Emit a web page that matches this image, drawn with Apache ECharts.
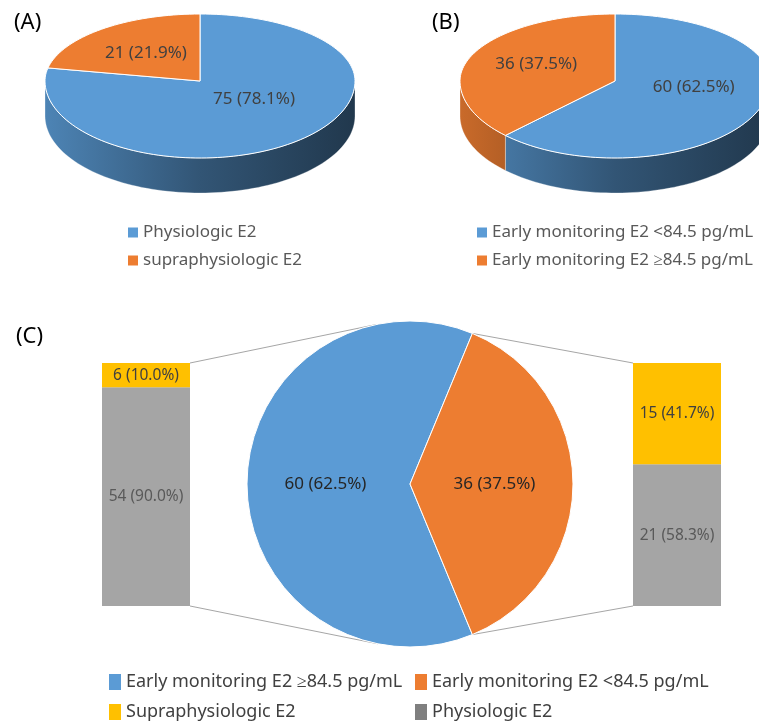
<!DOCTYPE html>
<html>
<head>
<meta charset="utf-8">
<script src="https://cdn.jsdelivr.net/npm/echarts/dist/echarts.min.js"></script>
<style>
  html, body { margin: 0; background: #fff; }
  #chart { width: 759px; height: 723px; }
</style>
</head>
<body>
<div id="chart"></div>
<script>
// (A) 3D pie
const namesA = ['Physiologic E2', 'supraphysiologic E2'];
const valuesA = [75, 21];
// (B) 3D pie
const namesB = ['Early monitoring E2 <84.5 pg/mL', 'Early monitoring E2 ≥84.5 pg/mL'];
const valuesB = [60, 36];
// (C) bar-of-pie
const namesC = ['Early monitoring E2 ≥84.5 pg/mL', 'Early monitoring E2 <84.5 pg/mL'];
const valuesC = [60, 36];
const barNames = ['Physiologic E2', 'Supraphysiologic E2'];
const barLeft = [54, 6];    // split of the 60
const barRight = [21, 15];  // split of the 36

const FONT = 'Noto Sans';
const BLUE = '#5B9BD5', ORANGE = '#ED7D31', YELLOW = '#FFC000', GRAY = '#A5A5A5', LEGEND_GRAY = '#7F7F7F';

const chart = echarts.init(document.getElementById('chart'));

// 3d pie geometry (top face drawn as two half ellipses for a bit of perspective)
const P3 = { a: 155, bBack: 67, bFront: 77, depth: 35 };

function shade(hex, k) {
    const n = parseInt(hex.slice(1), 16);
    const r = Math.round(((n >> 16) & 255) * k);
    const g = Math.round(((n >> 8) & 255) * k);
    const b = Math.round((n & 255) * k);
    return 'rgb(' + r + ',' + g + ',' + b + ')';
}

function rimPoint(cx, cy, deg) {
    const t = deg * Math.PI / 180;
    const s = Math.sin(t);
    return [cx + P3.a * Math.cos(t), cy - (s > 0 ? P3.bBack : P3.bFront) * s];
}

function arcPoints(cx, cy, from, to) {
    const pts = [];
    const n = Math.max(2, Math.ceil(Math.abs(to - from) / 2));
    for (let k = 0; k <= n; k++) pts.push(rimPoint(cx, cy, from + (to - from) * k / n));
    return pts;
}

// one custom series per slice, so the legend can find it by name
function pie3dSeries(names, values, colors, cx, cy) {
    const total = values.reduce((s, v) => s + v, 0);
    let acc = 0;
    return values.map((v, i) => {
        const t0 = 90 - acc / total * 360;
        acc += v;
        const t1 = 90 - acc / total * 360;
        const color = colors[i];
        return {
            type: 'custom',
            name: names[i],
            coordinateSystem: 'none',
            itemStyle: { color: color },
            data: [v],
            renderItem: function (params, api) {
                const val = api.value(0);
                const children = [];
                // side wall, only the front half is visible
                const lo = Math.max(t1, -180), hi = Math.min(t0, 0);
                if (lo < hi) {
                    const top = arcPoints(cx, cy, hi, lo);
                    const bottom = top.map(p => [p[0], p[1] + P3.depth]).reverse();
                    children.push({
                        type: 'polygon',
                        z2: 1,
                        shape: { points: top.concat(bottom) },
                        style: {
                            fill: {
                                type: 'linear', x: cx - P3.a, y: 0, x2: cx + P3.a, y2: 0, global: true,
                                colorStops: [
                                    { offset: 0, color: shade(color, 0.85) },
                                    { offset: 0.5, color: shade(color, 0.55) },
                                    { offset: 1, color: shade(color, 0.36) }
                                ]
                            },
                            stroke: 'rgba(255,255,255,0.5)',
                            lineWidth: 0.6
                        }
                    });
                }
                children.push({
                    type: 'polygon',
                    z2: 5,
                    shape: { points: [[cx, cy]].concat(arcPoints(cx, cy, t0, t1)) },
                    style: { fill: color, stroke: '#ffffff', lineWidth: 1 }
                });
                const mid = (t0 + t1) / 2 * Math.PI / 180;
                children.push({
                    type: 'text',
                    z2: 10,
                    x: cx + P3.a * 0.55 * Math.cos(mid),
                    y: cy - 5 - P3.bBack * 0.45 * Math.sin(mid),
                    style: {
                        text: val + ' (' + (val / total * 100).toFixed(1) + '%)',
                        fill: '#404040',
                        fontFamily: FONT,
                        fontSize: 17,
                        align: 'center',
                        verticalAlign: 'middle'
                    }
                });
                return { type: 'group', children: children };
            }
        };
    });
}

// (C) pie layout
const PC = { cx: 410, cy: 484, r: 163 };
const totalC = valuesC.reduce((s, v) => s + v, 0);
// orange slice centred on 3 o'clock
const startC = (valuesC[0] + valuesC[1] / 2) / totalC * 360;
const halfOrange = valuesC[1] / totalC * 180;

// bars of (C)
const BAR = { top: 363, height: 243, width: 88, leftX: 102, rightX: 633 };

function tangent(px, py, upper) {
    const dx = px - PC.cx, dy = py - PC.cy;
    const d = Math.hypot(dx, dy);
    const base = Math.atan2(dy, dx);
    const off = Math.acos(PC.r / d);
    const ang = upper ? base + off : base - off;
    return [PC.cx + PC.r * Math.cos(ang), PC.cy + PC.r * Math.sin(ang)];
}

const edgeRad = halfOrange * Math.PI / 180;
const orangeTop = [PC.cx + PC.r * Math.cos(edgeRad), PC.cy - PC.r * Math.sin(edgeRad)];
const orangeBot = [PC.cx + PC.r * Math.cos(edgeRad), PC.cy + PC.r * Math.sin(edgeRad)];
const lbTop = [BAR.leftX + BAR.width, BAR.top];
const lbBot = [BAR.leftX + BAR.width, BAR.top + BAR.height];
const rbTop = [BAR.rightX, BAR.top];
const rbBot = [BAR.rightX, BAR.top + BAR.height];
const tTop = tangent(lbTop[0], lbTop[1], true);
const tBot = tangent(lbBot[0], lbBot[1], false);

function connector(p, q) {
    return {
        type: 'line', z: 0,
        shape: { x1: p[0], y1: p[1], x2: q[0], y2: q[1] },
        style: { stroke: '#A6A6A6', lineWidth: 1 }
    };
}

function barLabel(total) {
    return function (p) {
        return p.value + ' (' + (p.value / total * 100).toFixed(1) + '%)';
    };
}

const leftTotal = barLeft.reduce((s, v) => s + v, 0);
const rightTotal = barRight.reduce((s, v) => s + v, 0);

const titleStyle = { fontFamily: FONT, fontSize: 22, fontWeight: 'normal', color: '#000' };
const legendBase = {
    orient: 'vertical', icon: 'rect', selectedMode: false, padding: 5
};

// legend (C): one small legend per entry, laid out as a 2x2 table
function legendC(name, color, left, top) {
    return {
        orient: 'horizontal', icon: 'rect', selectedMode: false, padding: 0,
        left: left, top: top, itemWidth: 12, itemHeight: 16,
        textStyle: { fontFamily: FONT, fontSize: 18, color: '#404040' },
        data: [{ name: name, itemStyle: { color: color } }]
    };
}

const option = {
    animation: false,
    backgroundColor: '#fff',
    title: [
        { text: '(A)', left: 9, top: 7, textStyle: titleStyle },
        { text: '(B)', left: 427, top: 7, textStyle: titleStyle },
        { text: '(C)', left: 11, top: 321, textStyle: titleStyle }
    ],
    legend: [
        Object.assign({}, legendBase, {
            left: 123, top: 219, itemWidth: 10, itemHeight: 10, itemGap: 11,
            textStyle: { fontFamily: FONT, fontSize: 17, color: '#595959' },
            data: [{ name: namesA[0], itemStyle: { color: BLUE } }, { name: namesA[1], itemStyle: { color: ORANGE } }]
        }),
        Object.assign({}, legendBase, {
            left: 472, top: 219, itemWidth: 10, itemHeight: 10, itemGap: 11,
            textStyle: { fontFamily: FONT, fontSize: 17, color: '#595959' },
            data: [{ name: namesB[0], itemStyle: { color: BLUE } }, { name: namesB[1], itemStyle: { color: ORANGE } }]
        }),
        legendC(namesC[0], BLUE, 109, 673),
        legendC(namesC[1], ORANGE, 415, 673),
        legendC(barNames[1], YELLOW, 109, 703),
        legendC(barNames[0], LEGEND_GRAY, 415, 703)
    ],
    graphic: [
        connector(lbTop, tTop),
        connector(lbBot, tBot),
        connector(orangeTop, rbTop),
        connector(orangeBot, rbBot)
    ],
    grid: [
        { left: BAR.leftX, top: BAR.top, width: BAR.width, height: BAR.height },
        { left: BAR.rightX, top: BAR.top, width: BAR.width, height: BAR.height }
    ],
    xAxis: [
        { gridIndex: 0, type: 'category', data: [namesC[0]], show: false },
        { gridIndex: 1, type: 'category', data: [namesC[1]], show: false }
    ],
    yAxis: [
        { gridIndex: 0, type: 'value', min: 0, max: leftTotal, show: false },
        { gridIndex: 1, type: 'value', min: 0, max: rightTotal, show: false }
    ],
    series: [].concat(
        pie3dSeries(namesA, valuesA, [BLUE, ORANGE], 200, 81),
        pie3dSeries(namesB, valuesB, [BLUE, ORANGE], 615, 81),
        [{
            type: 'pie',
            name: 'C',
            center: [PC.cx, PC.cy],
            radius: PC.r,
            startAngle: startC,
            clockwise: true,
            percentPrecision: 1,
            z: 3,
            itemStyle: { borderColor: '#fff', borderWidth: 1 },
            label: {
                show: true, position: 'inside', formatter: '{c} ({d}%)',
                color: '#262626', fontFamily: FONT, fontSize: 17
            },
            labelLine: { show: false },
            data: [
                { name: namesC[0], value: valuesC[0], itemStyle: { color: BLUE } },
                { name: namesC[1], value: valuesC[1], itemStyle: { color: ORANGE } }
            ]
        }],
        [
            { xi: 0, st: 'L', vals: barLeft, tot: leftTotal },
            { xi: 1, st: 'R', vals: barRight, tot: rightTotal }
        ].reduce((out, b) => out.concat(b.vals.map((v, j) => ({
            type: 'bar',
            name: barNames[j],
            xAxisIndex: b.xi,
            yAxisIndex: b.xi,
            stack: b.st,
            barWidth: '100%',
            data: [v],
            itemStyle: { color: j === 0 ? GRAY : YELLOW },
            label: {
                show: true, position: 'inside', formatter: barLabel(b.tot),
                color: j === 0 ? '#595959' : '#404040', fontFamily: FONT, fontSize: 15.5
            }
        }))), [])
    )
};

chart.setOption(option);
</script>
</body>
</html>
